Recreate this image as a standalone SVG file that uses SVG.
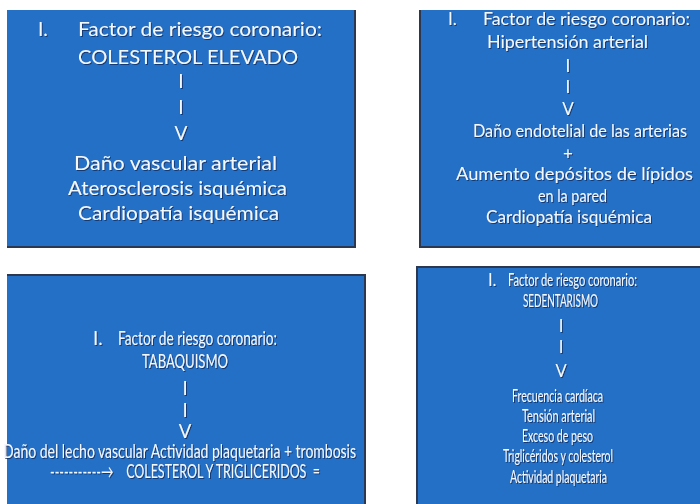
<svg xmlns="http://www.w3.org/2000/svg" width="700" height="504" viewBox="0 0 700 504">
<defs>
<filter id="sh" x="-5%" y="-20%" width="110%" height="140%">
<feDropShadow dx="1" dy="1" stdDeviation="0.6" flood-color="#152a55" flood-opacity="0.75"/>
</filter>
<style>
.panel{fill:#2470c6}
.edge{fill:none;stroke:#2b3850;stroke-width:2}
text{font-family:Lato,"Open Sans","Liberation Sans",sans-serif;fill:#f3f7ff;filter:url(#sh)}
.p1{font-size:19px}
.p2{font-size:17px}
.p3{font-size:18.5px}
.p4{font-size:16.5px}
.c{text-anchor:middle}
</style>
</defs>
<rect width="700" height="504" fill="#ffffff"/>
<g id="connectors"/>
<g id="panel-colesterol">
<rect class="panel" x="7" y="10" width="349" height="238"/>
<path class="edge" d="M355 10V247H7"/>
<text class="p1"><tspan x="38" y="36">I.</tspan><tspan x="78" y="36" textLength="244" lengthAdjust="spacingAndGlyphs">Factor de riesgo coronario:</tspan></text>
<text class="p1" x="78" y="64" textLength="220" lengthAdjust="spacingAndGlyphs">COLESTEROL ELEVADO</text>
<text class="p1 c" x="181" y="88">I</text>
<text class="p1 c" x="181" y="114">I</text>
<text class="p1 c" x="181" y="140">V</text>
<text class="p1" x="74" y="170" textLength="203" lengthAdjust="spacingAndGlyphs">Daño vascular arterial</text>
<text class="p1" x="68" y="195" textLength="219" lengthAdjust="spacingAndGlyphs">Aterosclerosis isquémica</text>
<text class="p1" x="78" y="220" textLength="201" lengthAdjust="spacingAndGlyphs">Cardiopatía isquémica</text>
</g>
<g id="panel-hipertension">
<rect class="panel" x="419" y="10" width="281" height="238"/>
<path class="edge" d="M420 10V247H700"/>
<text class="p2"><tspan x="448" y="25">I.</tspan><tspan x="483" y="25" textLength="207" lengthAdjust="spacingAndGlyphs">Factor de riesgo coronario:</tspan></text>
<text class="p2" x="487" y="48" textLength="161" lengthAdjust="spacingAndGlyphs">Hipertensión arterial</text>
<text class="p2 c" x="568" y="72">I</text>
<text class="p2 c" x="568" y="93">I</text>
<text class="p2 c" x="568" y="115">V</text>
<text class="p2" x="473" y="137" textLength="214" lengthAdjust="spacingAndGlyphs">Daño endotelial de las arterias</text>
<text class="p2 c" x="568" y="160">+</text>
<text class="p2" x="456" y="180" textLength="237" lengthAdjust="spacingAndGlyphs">Aumento depósitos de lípidos</text>
<text class="p2" x="538" y="202" textLength="69" lengthAdjust="spacingAndGlyphs">en la pared</text>
<text class="p2" x="486" y="223" textLength="166" lengthAdjust="spacingAndGlyphs">Cardiopatía isquémica</text>
</g>
<g id="panel-tabaquismo">
<rect class="panel" x="7" y="274" width="359" height="230"/>
<path class="edge" d="M7 275H365V504"/>
<text class="p3"><tspan x="93" y="345">I.</tspan><tspan x="118" y="345" textLength="159" lengthAdjust="spacingAndGlyphs">Factor de riesgo coronario:</tspan></text>
<text class="p3" x="142" y="368" textLength="86" lengthAdjust="spacingAndGlyphs">TABAQUISMO</text>
<text class="p3 c" x="185" y="395">I</text>
<text class="p3 c" x="185" y="417">I</text>
<text class="p3 c" x="185" y="438">V</text>
<text class="p3" x="3" y="458" textLength="353" lengthAdjust="spacingAndGlyphs">Daño del lecho vascular Actividad plaquetaria + trombosis</text>
<text class="p3" x="50" y="478" textLength="270" lengthAdjust="spacingAndGlyphs" xml:space="preserve">-----------→    COLESTEROL Y TRIGLICERIDOS  =</text>
</g>
<g id="panel-sedentarismo">
<rect class="panel" x="416" y="266" width="284" height="238"/>
<path class="edge" d="M417 504V267H700"/>
<text class="p4"><tspan x="488" y="286">I.</tspan><tspan x="508" y="286" textLength="129" lengthAdjust="spacingAndGlyphs">Factor de riesgo coronario:</tspan></text>
<text class="p4" x="523" y="307" textLength="75" lengthAdjust="spacingAndGlyphs">SEDENTARISMO</text>
<text class="p4 c" x="561" y="332">I</text>
<text class="p4 c" x="561" y="353">I</text>
<text class="p4 c" x="561" y="377">V</text>
<text class="p4" x="512" y="402" textLength="91" lengthAdjust="spacingAndGlyphs">Frecuencia cardíaca</text>
<text class="p4" x="522" y="422" textLength="73" lengthAdjust="spacingAndGlyphs">Tensión arterial</text>
<text class="p4" x="522" y="442" textLength="71" lengthAdjust="spacingAndGlyphs">Exceso de peso</text>
<text class="p4" x="503" y="462" textLength="110" lengthAdjust="spacingAndGlyphs">Triglicéridos y colesterol</text>
<text class="p4" x="510" y="483" textLength="97" lengthAdjust="spacingAndGlyphs">Actividad plaquetaria</text>
</g>
</svg>
